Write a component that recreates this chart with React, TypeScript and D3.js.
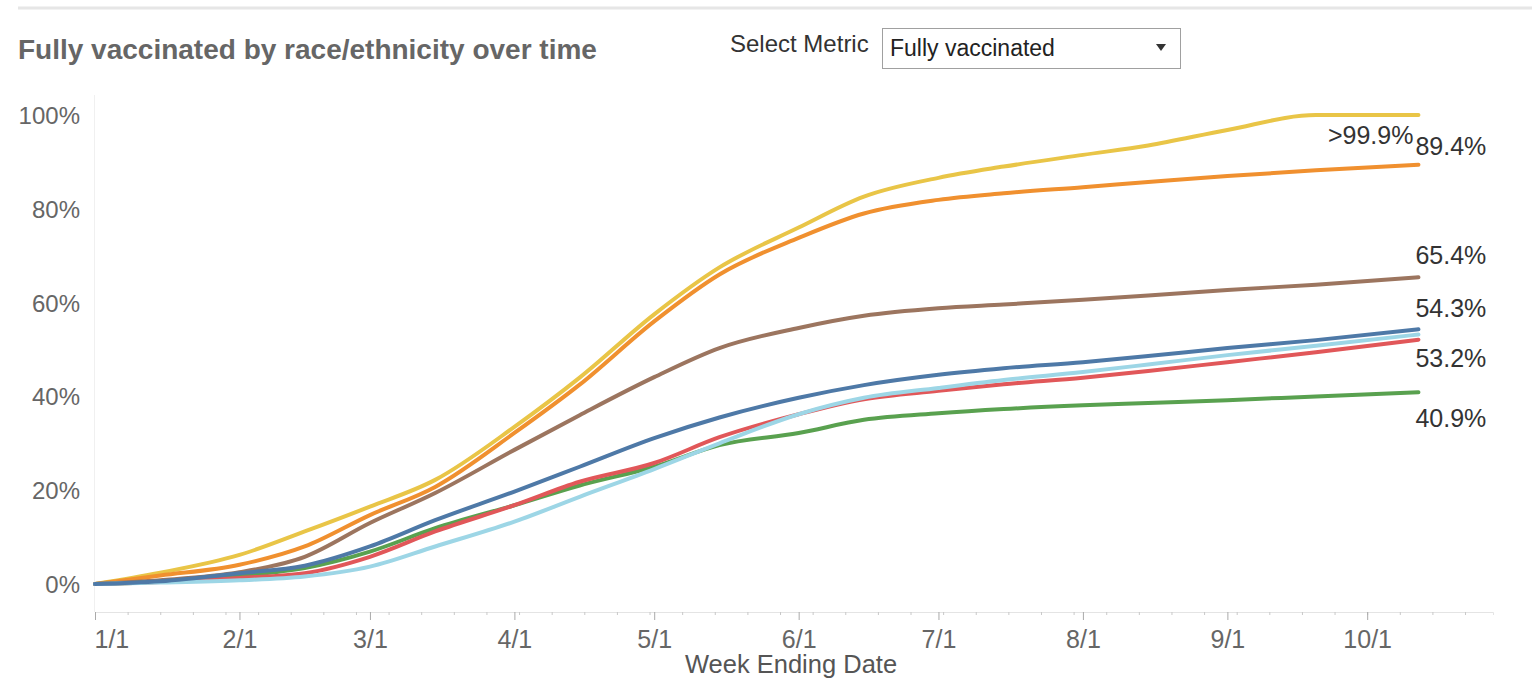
import React, { useRef, useEffect } from 'react'
import * as d3 from 'd3'

const width = 1532
const height = 678
const font = '"Liberation Sans", Arial, sans-serif'

// week ending dates (sampled) and % fully vaccinated per group
const weekEnding = [
  '2021-01-01', '2021-01-15', '2021-02-01', '2021-02-15', '2021-03-01', '2021-03-15',
  '2021-04-01', '2021-04-15', '2021-05-01', '2021-05-15', '2021-06-01', '2021-06-15',
  '2021-07-01', '2021-07-15', '2021-08-01', '2021-08-15', '2021-09-01', '2021-09-20',
  '2021-10-12'
]
const nhpiPct = [0, 2.4, 6.2, 11.2, 16.5, 22.2, 33.5, 44, 57.5, 67.5, 76, 82.6, 86.6, 89, 91.5, 93.5, 96.8, 100, 100]
const asianPct = [0, 1.8, 4.1, 8, 14.7, 20.7, 32.2, 42.5, 56, 66, 73.8, 79, 81.9, 83.3, 84.6, 85.7, 87, 88.2, 89.4]
const multiPct = [0, 0.8, 2.5, 5.8, 13, 19.4, 28.6, 36, 44.1, 50.3, 54.6, 57.2, 58.8, 59.6, 60.6, 61.5, 62.7, 63.8, 65.4]
const blackPct = [0, 0.5, 1.8, 3.4, 6.9, 11.9, 16.8, 21, 25, 29.6, 32.2, 35, 36.4, 37.3, 38.1, 38.6, 39.2, 40, 40.9]
const latinoPct = [0, 0.4, 1.3, 2.3, 5.8, 11.2, 16.8, 21.8, 25.8, 31.3, 36.2, 39.4, 41.2, 42.6, 44, 45.4, 47.3, 49.4, 52.1]
const aianPct = [0, 0.3, 0.8, 1.6, 3.7, 8, 13.3, 18.6, 24.5, 30, 36.2, 39.7, 41.8, 43.5, 45.2, 46.8, 48.8, 50.8, 53.2]
const whitePct = [0, 0.6, 2.3, 3.9, 8, 13.6, 19.7, 25, 31.1, 35.5, 39.7, 42.4, 44.6, 46, 47.3, 48.6, 50.3, 52, 54.3]

const groups = ['NHPI', 'Asian', 'Multiracial', 'Black', 'Latino', 'AI/AN', 'White']
const groupValues = [nhpiPct, asianPct, multiPct, blackPct, latinoPct, aianPct, whitePct]
const endLabels = ['>99.9%', '89.4%', '65.4%', '40.9%', '', '53.2%', '54.3%']
const yTicks = [0, 20, 40, 60, 80, 100]

const colors = ['#e9c547', '#f0902f', '#9c755f', '#59a14f', '#e15759', '#9dd6e6', '#4e79a7']
// label placement: dy from line end, anchor
const labelDy = [29, -10, -13, 35, 0, 33, -12]
const labelAnchor = ['end', 'start', 'start', 'start', 'start', 'start', 'start']

const parse = d3.timeParse('%Y-%m-%d')

const App: React.FC = () => {
  const svgRef = useRef<SVGSVGElement>(null)

  useEffect(() => {
    if (!svgRef.current) return
    const svg = d3.select(svgRef.current)
    svg.selectAll('*').remove()

    const dates = weekEnding.map(d => parse(d) as Date)
    const x = d3.scaleTime()
      .domain([new Date(2021, 0, 1), new Date(2021, 9, 28)])
      .range([95, 1493])
    const y = d3.scaleLinear().domain([0, 100]).range([584, 115])

    // top rule
    svg.append('line')
      .attr('x1', 18).attr('x2', width).attr('y1', 8).attr('y2', 8)
      .attr('stroke', '#e6e6e6').attr('stroke-width', 3)

    svg.append('text')
      .attr('x', 18).attr('y', 59)
      .attr('font-family', font).attr('font-size', 28).attr('font-weight', 'bold')
      .attr('fill', '#666')
      .text('Fully vaccinated by race/ethnicity over time')

    // metric selector
    svg.append('text')
      .attr('x', 730).attr('y', 52)
      .attr('font-family', font).attr('font-size', 24).attr('fill', '#333')
      .text('Select Metric')
    svg.append('rect')
      .attr('x', 882.5).attr('y', 28.5).attr('width', 298).attr('height', 40)
      .attr('fill', '#fff').attr('stroke', '#a0a0a0')
    svg.append('text')
      .attr('x', 890).attr('y', 56)
      .attr('font-family', font).attr('font-size', 23).attr('fill', '#222')
      .text('Fully vaccinated')
    svg.append('path')
      .attr('d', 'M1156,44 L1166,44 L1161,51 Z')
      .attr('fill', '#333')

    // faint y axis line
    svg.append('line')
      .attr('x1', 94.5).attr('x2', 94.5).attr('y1', 95).attr('y2', 612)
      .attr('stroke', '#f0f0f0')

    const yAxis = svg.append('g')
      .attr('transform', 'translate(80,0)')
      .call(d3.axisLeft(y).tickValues(yTicks).tickFormat(d => `${d}%`).tickSize(0).tickPadding(0))
    yAxis.select('.domain').remove()
    yAxis.selectAll('text')
      .attr('font-family', font).attr('font-size', 24).attr('fill', '#666')
      .attr('dy', '0.35em')

    // x axis: minor weekly ticks, major monthly ticks
    const minorAxis = svg.append('g')
      .attr('transform', 'translate(0,612)')
      .call(d3.axisBottom(x).tickValues(d3.timeFriday.range(new Date(2021, 0, 1), new Date(2021, 9, 28))).tickSize(3).tickFormat(() => ''))
    minorAxis.select('.domain').attr('stroke', '#e4e4e4')
    minorAxis.selectAll('.tick line').attr('stroke', '#c8c8c8')

    const majorAxis = svg.append('g')
      .attr('transform', 'translate(0,612)')
      .call(d3.axisBottom(x).ticks(d3.timeMonth.every(1)).tickSize(8).tickPadding(10).tickFormat(d => d3.timeFormat('%-m/%-d')(d as Date)))
    majorAxis.select('.domain').remove()
    majorAxis.selectAll('.tick line').attr('stroke', '#aaa')
    majorAxis.selectAll<SVGTextElement, Date>('text')
      .attr('font-family', font).attr('font-size', 25).attr('fill', '#666')
      .attr('text-anchor', (_, i) => (i === 0 ? 'start' : 'middle'))
      .attr('x', (_, i) => (i === 0 ? -1 : 0))

    svg.append('text')
      .attr('x', 791).attr('y', 673).attr('text-anchor', 'middle')
      .attr('font-family', font).attr('font-size', 25.5).attr('fill', '#555')
      .text('Week Ending Date')

    const line = d3.line<number>()
      .x((_, i) => x(dates[i]))
      .y(v => y(v))
      .curve(d3.curveMonotoneX)

    groupValues.forEach((vals, gi) => {
      svg.append('path')
        .attr('class', `series-${groups[gi]}`)
        .attr('d', line(vals) || '')
        .attr('fill', 'none')
        .attr('stroke', colors[gi])
        .attr('stroke-width', 4)
        .attr('stroke-linejoin', 'round')
        .attr('stroke-linecap', 'round')
    })

    groupValues.forEach((vals, gi) => {
      if (!endLabels[gi]) return
      const last = vals.length - 1
      svg.append('text')
        .attr('x', x(dates[last]) + (labelAnchor[gi] === 'end' ? -5 : -3))
        .attr('y', y(vals[last]) + labelDy[gi])
        .attr('text-anchor', labelAnchor[gi])
        .attr('font-family', font).attr('font-size', 25).attr('fill', '#333')
        .text(endLabels[gi])
    })
  }, [])

  return (
    <svg
      ref={svgRef}
      width={width}
      height={height}
      style={{ position: 'absolute', left: 0, top: 0, background: '#fff' }}
    />
  )
}

export default App
